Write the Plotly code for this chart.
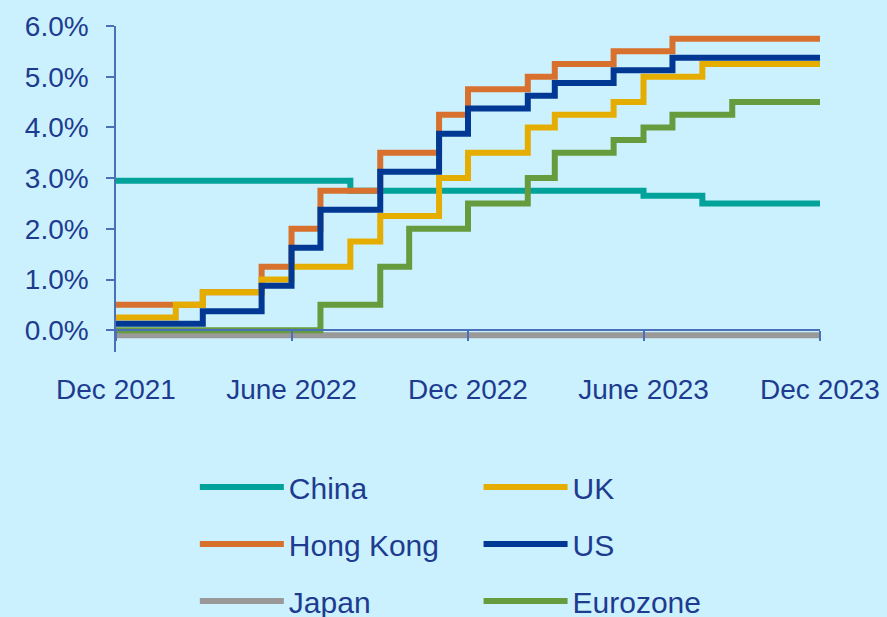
import plotly.graph_objects as go

months = ["2021-12-01", "2022-01-01", "2022-02-01", "2022-03-01", "2022-04-01", "2022-05-01",
          "2022-06-01", "2022-07-01", "2022-08-01", "2022-09-01", "2022-10-01", "2022-11-01",
          "2022-12-01", "2023-01-01", "2023-02-01", "2023-03-01", "2023-04-01", "2023-05-01",
          "2023-06-01", "2023-07-01", "2023-08-01", "2023-09-01", "2023-10-01", "2023-11-01",
          "2023-12-01"]

china = [2.95, 2.95, 2.95, 2.95, 2.95, 2.95, 2.95, 2.95, 2.75, 2.75, 2.75, 2.75,
         2.75, 2.75, 2.75, 2.75, 2.75, 2.75, 2.65, 2.65, 2.5, 2.5, 2.5, 2.5, 2.5]
hong_kong = [0.5, 0.5, 0.5, 0.75, 0.75, 1.25, 2.0, 2.75, 2.75, 3.5, 3.5, 4.25,
             4.75, 4.75, 5.0, 5.25, 5.25, 5.5, 5.5, 5.75, 5.75, 5.75, 5.75, 5.75, 5.75]
japan = [-0.1] * 25
uk = [0.25, 0.25, 0.5, 0.75, 0.75, 1.0, 1.25, 1.25, 1.75, 2.25, 2.25, 3.0,
      3.5, 3.5, 4.0, 4.25, 4.25, 4.5, 5.0, 5.0, 5.25, 5.25, 5.25, 5.25, 5.25]
us = [0.125, 0.125, 0.125, 0.375, 0.375, 0.875, 1.625, 2.375, 2.375, 3.125, 3.125, 3.875,
      4.375, 4.375, 4.625, 4.875, 4.875, 5.125, 5.125, 5.375, 5.375, 5.375, 5.375, 5.375, 5.375]
eurozone = [0.0, 0.0, 0.0, 0.0, 0.0, 0.0, 0.0, 0.5, 0.5, 1.25, 2.0, 2.0,
            2.5, 2.5, 3.0, 3.5, 3.5, 3.75, 4.0, 4.25, 4.25, 4.5, 4.5, 4.5, 4.5]

tick_dates = ["2021-12-01", "2022-06-01", "2022-12-01", "2023-06-01", "2023-12-01"]
tick_labels = ["Dec 2021", "June 2022", "Dec 2022", "June 2023", "Dec 2023"]
y_ticks = [0, 1, 2, 3, 4, 5, 6]
y_labels = ["0.0%", "1.0%", "2.0%", "3.0%", "4.0%", "5.0%", "6.0%"]

series = [
    ("China", china, "#00A29A", "legend"),
    ("Hong Kong", hong_kong, "#D8702E", "legend"),
    ("Japan", japan, "#999999", "legend"),
    ("UK", uk, "#E5AD00", "legend2"),
    ("US", us, "#003893", "legend2"),
    ("Eurozone", eurozone, "#669C3E", "legend2"),
]

text_color = "#1D3C8F"
bg = "#CCF1FE"
font_family = "Liberation Sans, Arial, sans-serif"

fig = go.Figure()
for name, vals, color, lg in series:
    fig.add_trace(go.Scatter(
        x=months, y=vals, name=name, mode="lines",
        line=dict(color=color, width=6, shape="hv"),
        legend=lg, legendgroup=name,
    ))

ymin = -0.43
ymax = 6.0
legend_common = dict(
    font=dict(size=30, color=text_color, family=font_family),
    itemwidth=84, tracegroupgap=15, bgcolor="rgba(0,0,0,0)",
    xanchor="left", yanchor="top", orientation="v",
)
fig.update_layout(
    width=887, height=617,
    margin=dict(l=116, r=67, t=26, b=265, autoexpand=False),
    paper_bgcolor=bg, plot_bgcolor=bg,
    font=dict(family=font_family, color=text_color),
    legend=dict(x=0.112, y=-0.334, **legend_common),
    legend2=dict(x=0.515, y=-0.334, **legend_common),
    xaxis=dict(
        type="date", range=["2021-12-01", "2023-12-01"],
        tickvals=tick_dates, ticktext=tick_labels,
        showgrid=False, zeroline=False,
        showline=True, linecolor="#4A70B8", linewidth=1.5,
        ticks="outside", ticklen=10, tickcolor="#4A70B8", tickwidth=1.5,
        tickfont=dict(size=28, color=text_color),
        anchor="free", position=(0 - ymin) / (ymax - ymin),
        ticklabelstandoff=24,
    ),
    yaxis=dict(
        range=[ymin, ymax], tickmode="array", tickvals=y_ticks, ticktext=y_labels,
        showgrid=False, zeroline=False,
        showline=True, linecolor="#4A70B8", linewidth=1.5,
        ticks="outside", ticklen=8, tickcolor="#4A70B8", tickwidth=1.5,
        tickfont=dict(size=28, color=text_color),
        ticklabelstandoff=12,
    ),
)
fig.write_html(
    "out.html",
    config={"displayModeBar": False},
    post_script="document.body.style.margin='0';document.body.style.background='%s';" % bg,
)
